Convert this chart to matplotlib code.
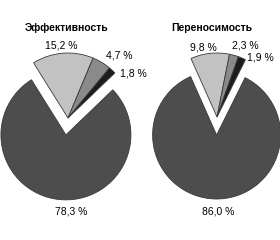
import matplotlib.pyplot as plt

plt.rcParams['font.family'] = ['Liberation Sans', 'DejaVu Sans']

# данные
titles = ['Эффективность', 'Переносимость']
eff = [15.2, 4.7, 1.8, 78.3]
tol = [9.8, 2.3, 1.9, 86.0]
colors = ['#c2c2c2', '#8a8a8a', '#1c1c1c', '#4d4d4d']

fig = plt.figure(figsize=(2.8, 2.4), dpi=100)
ax = fig.add_axes([0, 0, 1, 1])

wp = dict(edgecolor='#3a3a3a', linewidth=0.6)

# левая диаграмма (explode в единицах данных)
ax.pie(eff, colors=colors, startangle=122, counterclock=False,
       center=(68, 122), radius=65, explode=[0, 0, 0, 17],
       wedgeprops=wp, frame=True)
# правая диаграмма
ax.pie(tol, colors=colors, startangle=114, counterclock=False,
       center=(217, 123), radius=64, explode=[0, 0, 0, 18],
       wedgeprops=wp, frame=True)
ax.set_xlim(0, 280)
ax.set_ylim(0, 240)
ax.set_aspect('equal')
ax.axis('off')

fs = 7.5
ax.text(67, 212, titles[0], fontsize=fs, fontweight='bold', ha='center', va='center')
ax.text(212, 212, titles[1], fontsize=fs, fontweight='bold', ha='center', va='center')

def lab(v):
    return f'{v:.1f} %'.replace('.', ',')

ax.text(61, 195, lab(eff[0]), fontsize=fs, ha='center', va='center')
ax.text(119, 185, lab(eff[1]), fontsize=fs, ha='center', va='center')
ax.text(133, 167, lab(eff[2]), fontsize=fs, ha='center', va='center')
ax.text(71, 28, lab(eff[3]), fontsize=fs, ha='center', va='center')

ax.text(203, 193, lab(tol[0]), fontsize=fs, ha='center', va='center')
ax.text(245, 195, lab(tol[1]), fontsize=fs, ha='center', va='center')
ax.text(260, 182, lab(tol[2]), fontsize=fs, ha='center', va='center')
ax.text(218, 28, lab(tol[3]), fontsize=fs, ha='center', va='center')

fig.savefig('out.png', dpi=100)
